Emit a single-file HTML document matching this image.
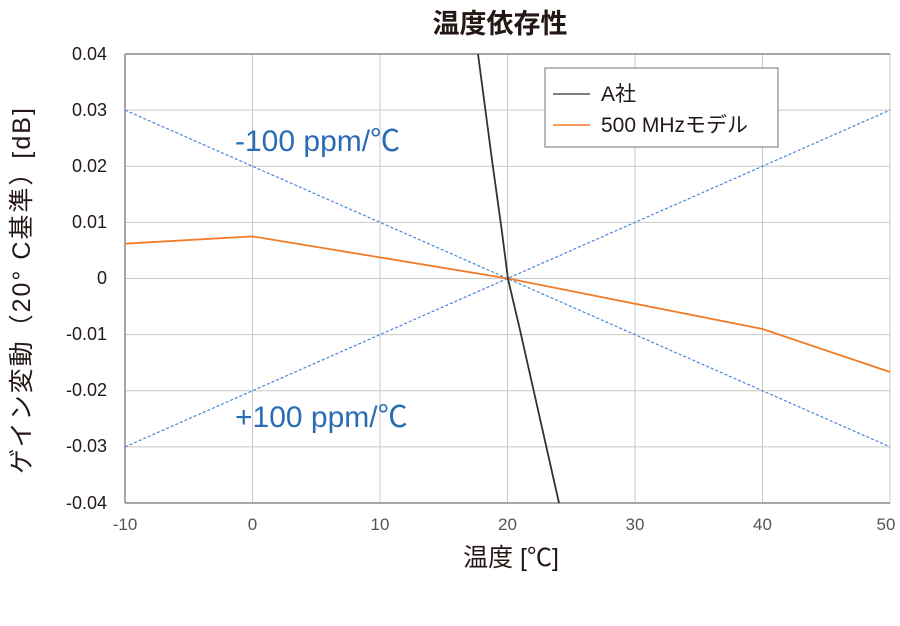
<!DOCTYPE html>
<html><head><meta charset="utf-8"><style>
html,body{margin:0;padding:0;background:#fff;}
svg text{font-family:"Liberation Sans","Noto Sans CJK JP",sans-serif;}
</style></head><body>
<svg width="900" height="621" viewBox="0 0 900 621" xmlns="http://www.w3.org/2000/svg">
<rect width="900" height="621" fill="#fff"/>
<text x="500" y="33" font-size="27" font-weight="bold" text-anchor="middle" fill="#231815">温度依存性</text>
<g stroke="#c8c8c8" stroke-width="1">
<line x1="252.5" y1="54" x2="252.5" y2="503"/><line x1="380" y1="54" x2="380" y2="503"/>
<line x1="507.5" y1="54" x2="507.5" y2="503"/><line x1="635" y1="54" x2="635" y2="503"/>
<line x1="762.5" y1="54" x2="762.5" y2="503"/><line x1="890" y1="54" x2="890" y2="503"/>
<line x1="125" y1="110.1" x2="890" y2="110.1"/><line x1="125" y1="166.3" x2="890" y2="166.3"/>
<line x1="125" y1="222.4" x2="890" y2="222.4"/><line x1="125" y1="278.5" x2="890" y2="278.5"/>
<line x1="125" y1="334.6" x2="890" y2="334.6"/><line x1="125" y1="390.8" x2="890" y2="390.8"/>
<line x1="125" y1="446.9" x2="890" y2="446.9"/>
</g>
<line x1="125" y1="54" x2="890" y2="54" stroke="#888" stroke-width="1.5"/>
<line x1="125" y1="503" x2="890" y2="503" stroke="#888" stroke-width="1.5"/>
<line x1="125" y1="54" x2="125" y2="503" stroke="#888" stroke-width="1.5"/>
<g stroke="#4a86d0" stroke-width="1.2" stroke-dasharray="3,2" fill="none">
<line x1="125" y1="110.1" x2="890" y2="446.9"/><line x1="125" y1="446.9" x2="890" y2="110.1"/>
</g>
<polyline points="125,243.7 252.5,236.4 508,278.5 762.5,329 890,372" fill="none" stroke="#f07c28" stroke-width="1.8"/>
<polyline points="478,54 492,160 501.7,230 508,279 520,330 559,503" fill="none" stroke="#333" stroke-width="1.8"/>
<text x="235" y="151" font-size="30" fill="#2a6db5">-100 ppm/℃</text>
<text x="235" y="427" font-size="30" fill="#2a6db5">+100 ppm/℃</text>
<rect x="545" y="68" width="233" height="79" fill="#fff" stroke="#888" stroke-width="1.2"/>
<line x1="553" y1="94" x2="590" y2="94" stroke="#333" stroke-width="1.3"/>
<line x1="553" y1="125" x2="590" y2="125" stroke="#f07c28" stroke-width="1.5"/>
<text x="601" y="101" font-size="21" fill="#231815">A社</text>
<text x="601" y="132" font-size="21" fill="#231815">500 MHzモデル</text>
<g font-size="18" fill="#231815" text-anchor="end">
<text x="107" y="60">0.04</text><text x="107" y="116">0.03</text><text x="107" y="172">0.02</text>
<text x="107" y="228">0.01</text><text x="107" y="284">0</text><text x="107" y="340">-0.01</text>
<text x="107" y="396">-0.02</text><text x="107" y="452">-0.03</text><text x="107" y="509">-0.04</text>
</g>
<g font-size="17" fill="#555" text-anchor="middle">
<text x="125" y="530">-10</text><text x="252.5" y="530">0</text><text x="380" y="530">10</text>
<text x="507.5" y="530">20</text><text x="635" y="530">30</text><text x="762.5" y="530">40</text><text x="886" y="530">50</text>
</g>
<text x="511" y="566" font-size="25" text-anchor="middle" fill="#231815">温度 [℃]</text>
<text transform="translate(30,290) rotate(-90)" font-size="25" letter-spacing="2" text-anchor="middle" fill="#231815">ゲイン変動（20° C基準）[dB]</text>
</svg>
</body></html>
